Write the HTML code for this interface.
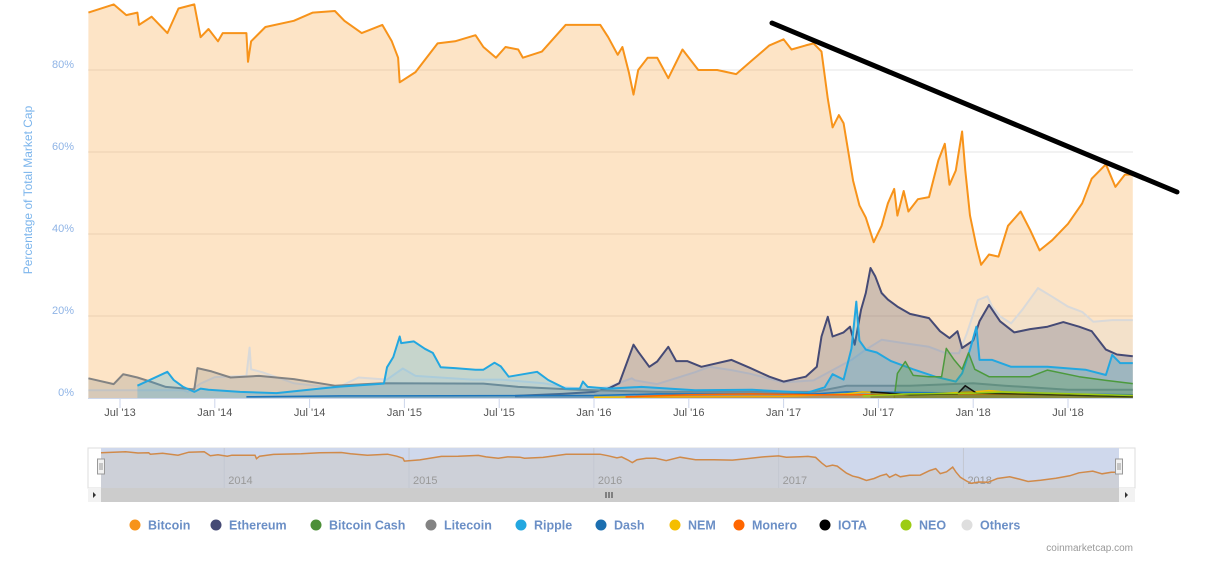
<!DOCTYPE html>
<html><head><meta charset="utf-8">
<style>
html,body{margin:0;padding:0;background:#fff;}
body{width:1205px;height:558px;overflow:hidden;font-family:"Liberation Sans",sans-serif;}
svg text{font-family:"Liberation Sans",sans-serif;}
</style></head>
<body>
<svg id="chart" width="1205" height="558" viewBox="0 0 1205 558" xmlns="http://www.w3.org/2000/svg">
  <g id="grid"></g>
  <g id="ylabels"></g>
  <text x="32" y="190" transform="rotate(-90 32 190)" text-anchor="middle" font-size="12" fill="#7cb5ec">Percentage of Total Market Cap</text>
  <g id="series"></g>
  <g id="xaxis"></g>
  <line x1="772" y1="23" x2="1177" y2="192" stroke="#000" stroke-width="5" stroke-linecap="round"/>
  <g id="navigator"></g>
  <g id="legend"></g>
  <text x="1133" y="551" text-anchor="end" font-size="10" fill="#999">coinmarketcap.com</text>
</svg>
<script>
// ---- data (t = months since Jan 2013, values = % of total market cap) ----
const btcT=[4,5.6,6.4,7.1,7.2,8,9,9.7,10.7,11.1,11.6,12.2,12.5,14,14.1,14.3,15.2,17,18.2,19.6,20.2,21.3,22.6,23.2,23.6,23.7,24.7,26.1,27.2,28.5,29,29.8,30.4,31.2,31.5,32.7,34.2,36.4,36.9,37.5,37.8,38.2,38.5,38.8,39.4,40,40.7,41.6,42.6,43.8,45,45.9,47.1,48,48.5,49.4,49.9,50.4,50.8,51.1,51.5,51.8,52.4,52.8,53.2,53.7,54.2,54.6,55,55.2,55.6,55.9,56.5,57.2,57.8,58.2,58.5,58.9,59.3,59.5,59.8,60.2,60.5,61,61.6,62.2,63,63.6,64.2,65,66,66.9,67.5,68.4,69,69.6,70.1];
const btcV=[94,96,93.4,94,91,93,89,95,96,88,90,87,89,89,82,87,90.5,92,94,94.4,92,89,91,87,83,77,79.5,86.5,87,88.5,85.6,83,85.6,85,83,84.5,91,91,88,83.7,85.6,79.5,74,80,83,83,78,85,80,80,79,82,86,87.5,85,86,86.5,84.5,73,66,69,67,53,47,44,38,42,47.5,51,44.5,50.5,45.5,48.5,49,58,62,52,55.5,65,55.5,44.5,37,32.5,35,34.5,42,45.5,41,36,38.5,42.5,47.5,53.5,57,51.5,54.5,54.5];
const ethT=[31,34,36,37,37.6,38.5,38.8,39.5,40,40.7,41.2,41.9,42.8,44.7,45.9,47.1,48,49.4,50.1,50.4,50.8,51.1,51.8,52.2,52.5,52.9,53.2,53.5,53.8,54.2,54.6,55.2,56,57.2,57.9,58.5,59,59.3,60,60.4,61,61.7,62.6,63.6,64.7,65.7,66.7,67.5,68.4,69.1,70.1];
const ethV=[0.5,1,1.5,2.5,3.6,13,11.3,7.6,8.9,12.5,9,9,7.6,9.3,7.3,5.2,4,5.2,7.6,15,19.8,15,16,17.4,13,21.5,25.6,31.7,29.7,25.6,24,22.3,20.5,19.5,16.3,14.6,16.3,12.2,14,18.7,22.7,18.7,16,16.8,17.4,18.5,17.4,16.3,11.8,10.6,10.2];
const xrpT=[7.1,9,9.4,10,10.7,11.1,11.6,13.6,15.9,19.7,22.7,22.9,23.3,23.7,23.8,24.6,25.3,25.8,26.3,27.2,28.5,29,29.7,30.1,30.6,32.4,33.1,34.2,35.1,35.3,35.6,36.9,39,42.4,46,49.5,50.6,51.1,51.8,52.3,52.6,52.8,53.2,53.9,54.8,56.2,57.6,58.9,59.3,59.8,60.2,60.4,61.2,62.4,64.7,67.1,68.4,68.8,69.3,70.1];
const xrpV=[3,6.4,4.4,2.7,1.5,2.3,2,1.5,1.2,2.7,3.5,7.5,10,15,13.4,13.8,12,11,7.5,7.3,6.9,6.9,8.6,7.7,5.2,6.4,4.4,2.3,2.3,4,2.7,2.3,2.7,1.9,2,1.3,2.6,5.8,4.5,12.1,23.5,14,11.8,11.1,9,7,5.2,4,6,11.8,17.4,9.3,9.3,7.6,7.6,6.9,5.6,10.5,8.5,8.5];
const ltcT=[4,5.6,6.2,7.1,8,8.9,10.7,10.9,11.8,13,14.8,17,19.6,22.7,29,31.2,35,40,50,52,56,60,62,66,70.1];
const ltcV=[4.8,3.4,5.8,5,3.9,2.7,2.1,7.3,6.5,5,5.4,4.6,3,3.6,3.5,2.7,2,1.5,1.5,3,3,3.6,3,2,2];
const othT=[4,10,10.3,11.1,12,14,14.2,14.3,15,17,19.7,21.1,22.9,23.9,24.7,28.3,30.1,32.8,34,35.6,36.9,38.4,38.6,40,42.4,43.3,44.7,45.9,48,49.9,51.1,52.3,53.2,54.2,55.6,57.2,58.3,59.1,59.6,60.3,60.9,61.2,61.7,62.4,63.1,64.1,65,66,66.9,67.6,68.8,70.1];
const othV=[1.9,1.9,1.5,3.5,5.1,5.4,12.3,7,6.3,3.6,2.4,5,4.5,7.2,5.4,4.5,4.5,3.6,2.7,2.2,2.7,4.8,4.3,3.4,6.3,7.6,6.8,5.9,3.8,4.3,6.8,9.3,11.8,14.2,13.4,12.5,10.9,10.9,15.8,23.9,24.8,22.3,19.9,18.2,21.5,26.8,24.7,22.3,21,18.6,19,19];
const bchT=[55,55.2,55.7,56.2,57.2,58,58.3,58.8,59.3,59.7,60.1,61,63.6,64.7,66.7,68.4,70.1];
const bchV=[0,6,8.9,5.5,5.2,5.2,12.1,9.3,7,11,7,5.2,5.2,6.8,5.2,4.3,3.5];
const dashT=[14,20,36,40,50,52,60,70.1];
const dashV=[0.3,0.5,0.6,1,1,1.5,1.2,0.8];
const nemT=[36,48,52,53,56,60,61,64,70.1];
const nemV=[0.2,0.4,1,1.5,0.8,1.5,1.8,0.8,0.5];
const xmrT=[38,42,46,50,54,60,70.1];
const xmrV=[0.3,0.8,1,0.8,0.8,1,0.6];
const iotaT=[53.5,56,59,59.5,60.2,70.1];
const iotaV=[1.5,0.8,1,3,1.2,0.3];
const neoT=[53,56,60,62,70.1];
const neoV=[0.5,1,1.2,1.5,0.6];
const yTicks=[0,20,40,60,80];
const xTickT=[6,12,18,24,30,36,42,48,54,60,66];
const xTickLabels=["Jul '13","Jan '14","Jul '14","Jan '15","Jul '15","Jan '16","Jul '16","Jan '17","Jul '17","Jan '18","Jul '18"];
const navYears=["2014","2015","2016","2017","2018"];
const navYearT=[12,24,36,48,60];
const legendNames=["Bitcoin","Ethereum","Bitcoin Cash","Litecoin","Ripple","Dash","NEM","Monero","IOTA","NEO","Others"];

// ---- scales ----
const PX0=88,PX1=1133,T0=4,T1=70.1;
const xS=t=>120+(t-6)*15.8;
const yS=p=>398-p*4.1;
const NS="http://www.w3.org/2000/svg";
function mk(tag,attrs,parent){const e=document.createElementNS(NS,tag);for(const k in attrs)e.setAttribute(k,attrs[k]);parent.appendChild(e);return e;}

// grid + y labels
const grid=document.getElementById('grid'),yl=document.getElementById('ylabels');
yTicks.forEach(v=>{
  if(v>0){const l=mk('line',{x1:PX0,x2:PX1,y1:yS(v),y2:yS(v),stroke:'#e6e6e6','stroke-width':1},grid);
  
  }
  const t=mk('text',{x:74,y:yS(v)-2,'text-anchor':'end','font-size':11,fill:'#8fb4e6'},yl);
  t.textContent=v+'%';
  
  
});

// series
const sg=document.getElementById('series');
function series(name,T,V,color,fillOp,sw){
  let d='';T.forEach((t,i)=>{d+=(i?'L':'M')+xS(t).toFixed(1)+','+yS(V[i]).toFixed(1);});
  const area=d+'L'+xS(T[T.length-1]).toFixed(1)+','+yS(0)+'L'+xS(T[0]).toFixed(1)+','+yS(0)+'Z';
  const a=mk('path',{d:area,fill:color,'fill-opacity':fillOp,stroke:'none'},sg);
  
  
  const l=mk('path',{d:d,fill:'none',stroke:color,'stroke-width':sw,'stroke-linejoin':'round'},sg);
  
  
}
series('bitcoin',btcT,btcV,'#f7931a',0.25,2);
series('others',othT,othV,'#d9d9d9',0.25,2);
series('ethereum',ethT,ethV,'#454a75',0.25,2);
series('litecoin',ltcT,ltcV,'#838383',0.25,2);
series('ripple',xrpT,xrpV,'#23a7e0',0.25,2);
series('bitcoin-cash',bchT,bchV,'#4c9a3d',0.25,1.5);
series('dash',dashT,dashV,'#1c75bc',0.25,1.5);
series('nem',nemT,nemV,'#f5be00',0.25,1.5);
series('monero',xmrT,xmrV,'#ff6600',0.25,1.5);
series('iota',iotaT,iotaV,'#111111',0.25,1.5);
series('neo',neoT,neoV,'#9ccc14',0.25,1.5);

// x axis
const xa=document.getElementById('xaxis');
const base=mk('line',{x1:PX0,x2:PX1,y1:398.5,y2:398.5,stroke:'#ccd6eb'},xa);


xTickT.forEach((t,i)=>{
  const tk=mk('line',{x1:xS(t),x2:xS(t),y1:399,y2:408,stroke:'#ccd6eb'},xa);
  
  
  const tx=mk('text',{x:xS(t),y:416,'text-anchor':'middle','font-size':11,fill:'#555'},xa);
  tx.textContent=xTickLabels[i];
  
  
});

// navigator
const nv=document.getElementById('navigator');
const NX0=101,NX1=1119,NY0=448,NY1=488;
const nxS=t=>NX0+(t-T0)/(T1-T0)*(NX1-NX0);
const nyS=p=>Math.min(NY1,451.7+(96-p)*0.497);
const nbg=mk('rect',{x:88,y:NY0,width:1047,height:NY1-NY0,fill:'#fff',stroke:'#ddd'},nv);


const nsel=mk('rect',{x:NX0,y:NY0,width:NX1-NX0,height:NY1-NY0,fill:'#cfd8ec'},nv);


let nd='';btcT.forEach((t,i)=>{nd+=(i?'L':'M')+nxS(t).toFixed(1)+','+nyS(btcV[i]).toFixed(1);});
const narea=mk('path',{d:nd+'L'+NX1+','+NY1+'L'+NX0+','+NY1+'Z',fill:'#cdd0d8'},nv);


navYearT.forEach((t,i)=>{
  const gl=mk('line',{x1:nxS(t),x2:nxS(t),y1:NY0,y2:NY1,stroke:'#c4c8d2'},nv);
  
  
  const tx=mk('text',{x:nxS(t)+4,y:484,'font-size':11,fill:'#999'},nv);
  tx.textContent=navYears[i];
  
  
});
const nl=mk('path',{d:nd,fill:'none',stroke:'#d08a4a','stroke-width':1.5},nv);


[NX0,NX1].forEach((x,i)=>{
  const h=mk('rect',{x:x-3.5,y:459,width:7,height:15,fill:'#f2f2f2',stroke:'#999'},nv);
  
  
  mk('line',{x1:x-1,x2:x-1,y1:463,y2:470,stroke:'#999'},nv);
  mk('line',{x1:x+1,x2:x+1,y1:463,y2:470,stroke:'#999'},nv);
});
const sb=mk('rect',{x:88,y:488,width:1047,height:14,fill:'#f2f2f2'},nv);


const th=mk('rect',{x:101,y:488,width:1018,height:14,fill:'#cccccc'},nv);


[606,609,612].forEach(x=>mk('line',{x1:x,x2:x,y1:492,y2:498,stroke:'#333'},nv));
const la=mk('path',{d:'M96,495 L93,492 L93,498Z',fill:'#333'},nv);


const ra=mk('path',{d:'M1127,495 L1124,492 L1124,498Z',transform:'translate(0,0)',fill:'#333'},nv);
ra.setAttribute('d','M1128,495 L1125,492 L1125,498Z');



// legend
const lg=document.getElementById('legend');
const legColors=['#f7931a','#454a75','#4c8f38','#838383','#23a7e0','#1c6fb0','#f5be00','#ff6600','#000000','#9ccc14','#dedede'];
const legX=[135,216,316,431,521,601,675,739,825,906,967];
legendNames.forEach((n,i)=>{
  const g=mk('g',{},lg);
  
  
  mk('circle',{cx:legX[i],cy:525,r:5.5,fill:legColors[i]},g);
  const t=mk('text',{x:legX[i]+13,y:529.5,'font-size':12.5,'font-weight':'bold',fill:'#6b8fc6'},g);
  t.textContent=n;
});
</script>
</body></html>
